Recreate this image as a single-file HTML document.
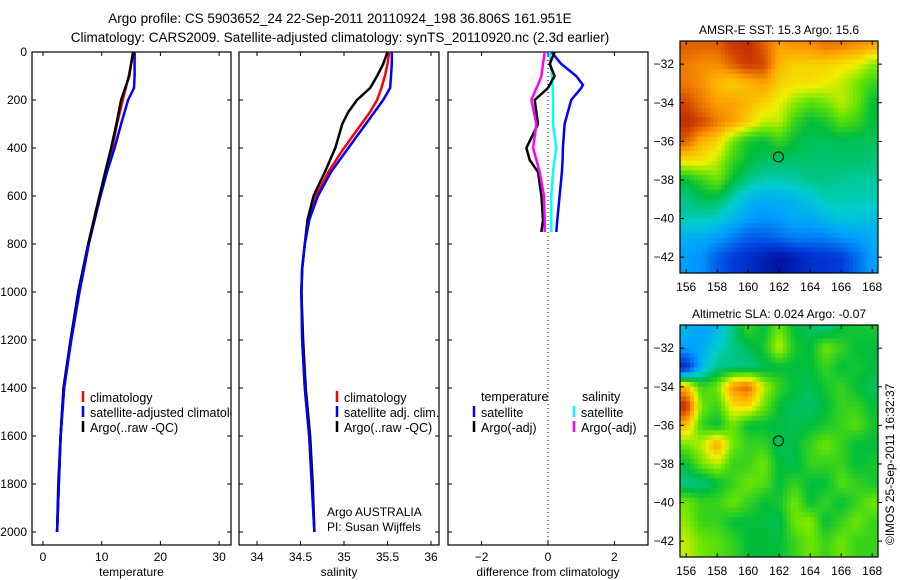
<!DOCTYPE html>
<html><head><meta charset="utf-8"><style>
body{margin:0;background:#fff;}
svg{display:block;font-family:"Liberation Sans",sans-serif;}
</style></head><body>
<svg id="c" width="900" height="580" viewBox="0 0 900 580">
<defs>
<clipPath id="cp1"><rect x="32" y="52" width="199" height="493"/></clipPath>
<clipPath id="cp2"><rect x="239" y="52" width="200" height="493"/></clipPath>
<clipPath id="cp3"><rect x="448" y="52" width="200" height="493"/></clipPath>
<clipPath id="cm1"><rect x="680" y="41" width="198" height="232"/></clipPath>
<clipPath id="cm2"><rect x="680" y="325" width="198" height="232"/></clipPath>
</defs>
<text x="340" y="23" font-size="13.5" text-anchor="middle">Argo profile: CS 5903652_24 22-Sep-2011 20110924_198 36.806S 161.951E</text>
<text x="340" y="42" font-size="13.5" text-anchor="middle">Climatology: CARS2009. Satellite-adjusted climatology: synTS_20110920.nc (2.3d earlier)</text>
<g id="g"></g>
</svg>
<script>
// ---------- data ----------
const depths = [0,50,100,150,200,300,400,500,600,800,1000,1200,1400,1600,1800,2000];
const tempSat  = [15.6,15.6,15.6,15.5,14.5,13.3,12.2,10.9,9.8,7.8,6.2,4.8,3.6,3.0,2.7,2.4];
const tempClim = [15.3,15.0,14.6,14.1,13.6,12.6,11.8,10.7,9.7,7.7,6.1,4.7,3.5,3.0,2.7,2.4];
const tempArgo = [15.4,15.0,14.7,14.0,13.3,12.5,11.6,10.6,9.6,7.7,6.0,4.7,3.5,3.0,2.6,2.4];
const depthsS = [0,50,100,150,200,250,300,400,500,600,700,800,900,1000,1200,1400,1600,1800,2000];
const salSat  = [35.55,35.55,35.54,35.53,35.45,35.35,35.25,35.05,34.85,34.7,34.6,34.55,34.52,34.51,34.52,34.55,34.6,34.63,34.66];
const salClim = [35.52,35.5,35.47,35.43,35.38,35.3,35.2,35.0,34.82,34.68,34.6,34.55,34.52,34.51,34.52,34.55,34.6,34.63,34.66];
const salArgo = [35.5,35.45,35.38,35.3,35.15,35.05,34.98,34.9,34.78,34.65,34.58,34.55,34.52,34.51,34.53,34.56,34.61,34.64,34.66];
const depthsD = [0,50,100,137,150,200,300,400,450,500,600,700,750];
const dTempSat  = [0.1,0.4,0.85,1.05,1.0,0.7,0.5,0.45,0.44,0.42,0.35,0.28,0.25];
const dTempArgo = [0.2,0.05,0.2,0.05,0.0,-0.4,-0.3,-0.65,-0.55,-0.3,-0.2,-0.15,-0.2];
const dSalSat   = [0.05,0.08,0.12,0.14,0.14,0.15,0.15,0.25,0.2,0.15,0.1,0.1,0.1];
const dSalArgo  = [-0.1,-0.15,-0.2,-0.3,-0.35,-0.5,-0.35,-0.45,-0.35,-0.25,-0.12,-0.1,-0.1];
const depthTicks = [0,200,400,600,800,1000,1200,1400,1600,1800,2000];
const tempTicks = [0,10,20,30];
const salTicks = [34,34.5,35,35.5,36];
const diffTicks = [-2,0,2];
const lonTicks = [156,158,160,162,164,166,168];
const latTicks = [-32,-34,-36,-38,-40,-42];
const lonCells = [156,157,158,159,160,161,162,163,164,165,166,167,168];
const latCells = [-31,-32,-33,-34,-35,-36,-37,-38,-39,-40,-41,-42];
const sstGrid = [
[0.85,0.85,0.85,0.9,0.92,0.85,0.78,0.8,0.8,0.83,0.82,0.8,0.78],
[0.82,0.8,0.8,0.85,0.9,0.88,0.75,0.72,0.72,0.72,0.7,0.68,0.62],
[0.82,0.8,0.75,0.72,0.75,0.78,0.72,0.7,0.7,0.68,0.65,0.6,0.55],
[0.88,0.82,0.78,0.78,0.75,0.72,0.68,0.62,0.58,0.6,0.65,0.6,0.5],
[0.92,0.88,0.82,0.78,0.72,0.65,0.65,0.55,0.5,0.52,0.58,0.55,0.5],
[0.85,0.75,0.72,0.6,0.52,0.5,0.55,0.5,0.48,0.48,0.48,0.48,0.48],
[0.7,0.7,0.65,0.55,0.5,0.48,0.47,0.47,0.47,0.46,0.47,0.47,0.46],
[0.5,0.55,0.6,0.5,0.45,0.42,0.42,0.43,0.45,0.45,0.44,0.43,0.43],
[0.45,0.48,0.48,0.42,0.35,0.33,0.33,0.35,0.38,0.42,0.42,0.42,0.42],
[0.42,0.42,0.4,0.35,0.3,0.28,0.3,0.32,0.32,0.35,0.38,0.38,0.36],
[0.33,0.32,0.3,0.25,0.2,0.2,0.22,0.25,0.25,0.25,0.28,0.3,0.33],
[0.3,0.28,0.2,0.15,0.12,0.08,0.05,0.08,0.12,0.13,0.15,0.22,0.3]];
const slaGrid = [
[0.35,0.3,0.35,0.45,0.55,0.5,0.6,0.5,0.48,0.45,0.5,0.52,0.52],
[0.3,0.32,0.4,0.45,0.48,0.52,0.65,0.52,0.5,0.6,0.55,0.5,0.5],
[0.1,0.35,0.45,0.45,0.45,0.48,0.5,0.5,0.5,0.55,0.5,0.52,0.5],
[0.75,0.55,0.6,0.8,0.85,0.65,0.55,0.5,0.48,0.52,0.55,0.5,0.48],
[0.92,0.6,0.55,0.7,0.72,0.6,0.5,0.48,0.47,0.5,0.55,0.55,0.5],
[0.75,0.55,0.5,0.6,0.5,0.5,0.5,0.48,0.5,0.52,0.55,0.58,0.52],
[0.6,0.65,0.78,0.6,0.55,0.55,0.48,0.5,0.55,0.6,0.55,0.5,0.5],
[0.5,0.6,0.65,0.55,0.55,0.6,0.5,0.48,0.55,0.55,0.55,0.5,0.52],
[0.45,0.45,0.5,0.55,0.6,0.58,0.5,0.55,0.5,0.5,0.58,0.55,0.52],
[0.6,0.55,0.55,0.6,0.55,0.5,0.52,0.6,0.5,0.55,0.5,0.55,0.6],
[0.62,0.55,0.55,0.5,0.5,0.5,0.48,0.6,0.62,0.5,0.55,0.6,0.55],
[0.65,0.6,0.58,0.55,0.5,0.5,0.5,0.55,0.6,0.55,0.6,0.55,0.55]];
const floatLon = 161.951, floatLat = -36.806;

// ---------- helpers ----------
const NS="http://www.w3.org/2000/svg";
const root=document.getElementById('g');
function mk(tag,attrs,parent){const e=document.createElementNS(NS,tag);for(const k in attrs)e.setAttribute(k,attrs[k]);(parent||root).appendChild(e);return e;}
const yD = d => 52 + d*0.24;
const cmapStops=[[0,[0,0,130]],[0.15,[0,60,220]],[0.3,[0,160,255]],[0.4,[0,205,205]],[0.5,[0,190,60]],[0.6,[110,230,0]],[0.68,[240,240,0]],[0.78,[255,160,0]],[0.88,[210,70,0]],[1,[150,0,0]]];
function cmap(v){v=Math.max(0,Math.min(1,v));
 for(let i=1;i<cmapStops.length;i++){const a=cmapStops[i-1],b=cmapStops[i];
  if(v<=b[0]){const t=(v-a[0])/(b[0]-a[0]);return 'rgb('+a[1].map((c,k)=>Math.round(c+(b[1][k]-c)*t)).join(',')+')';}}
 return 'rgb(150,0,0)';}

function panel(name,x0,x1,xs,ticks,fmt,label){
 const r=mk('rect',{x:x0,y:52,width:x1-x0,height:493,fill:'none',stroke:'#000','stroke-width':1.2});
 
 
 depthTicks.forEach(d=>{
  mk('line',{x1:x0,x2:x0+4,y1:yD(d),y2:yD(d),stroke:'#000'});
  mk('line',{x1:x1,x2:x1-4,y1:yD(d),y2:yD(d),stroke:'#000'});
  if(name==='temperature-panel'){const t=mk('text',{x:x0-5,y:yD(d)+4,'font-size':12,'text-anchor':'end'});t.textContent=d;
   
   }
 });
 ticks.forEach(v=>{const x=xs(v);
  mk('line',{x1:x,x2:x,y1:545,y2:541,stroke:'#000'});mk('line',{x1:x,x2:x,y1:52,y2:56,stroke:'#000'});
  const t=mk('text',{x:x,y:561,'font-size':12,'text-anchor':'middle'});t.textContent=fmt(v);
  
  });
 const l=mk('text',{x:(x0+x1)/2,y:576,'font-size':12,'text-anchor':'middle'});l.textContent=label;
 
 
}
function line(name,xs,vals,ds,color,clip){
 const pts=vals.map((v,i)=>xs(v).toFixed(1)+','+yD(ds[i]).toFixed(1)).join(' ');
 const p=mk('polyline',{points:pts,fill:'none',stroke:color,'stroke-width':2.5,'clip-path':'url(#'+clip+')'});
 
 
}
function legend(x,y,color,txt,clip){
 mk('line',{x1:x,x2:x,y1:y-6,y2:y+5,stroke:color,'stroke-width':2.5});
 const t=mk('text',{x:x+7,y:y+5,'font-size':12.5,'clip-path':clip?'url(#'+clip+')':''});t.textContent=txt;
 
 
}

// panel 1 temperature
const xT=v=>43+v*5.87;
panel('temperature-panel',32,231,xT,tempTicks,v=>v,'temperature');
line('temp-climatology-line',xT,tempClim,depths,'#f00','cp1');
line('temp-satellite-line',xT,tempSat,depths,'#00f','cp1');
line('temp-argo-line',xT,tempArgo,depths,'#000','cp1');
line('temp-satellite-line-top',xT,tempSat.slice(9),depths.slice(9),'#00f','cp1');
legend(83,397,'#f00','climatology','cp1');
legend(83,412,'#00f','satellite-adjusted climatology','cp1');
legend(83,427,'#000','Argo(..raw -QC)','cp1');

// panel 2 salinity
const xS=v=>257+(v-34)*87;
panel('salinity-panel',239,439,xS,salTicks,v=>v,'salinity');
line('sal-climatology-line',xS,salClim,depthsS,'#f00','cp2');
line('sal-argo-line',xS,salArgo,depthsS,'#000','cp2');
line('sal-satellite-line',xS,salSat,depthsS,'#00f','cp2');
legend(337,397,'#f00','climatology');
legend(337,412,'#00f','satellite adj. clim.');
legend(337,427,'#000','Argo(..raw -QC)');
[['Argo AUSTRALIA',516],['PI: Susan Wijffels',531]].forEach(a=>{const t=mk('text',{x:327,y:a[1],'font-size':12});t.textContent=a[0];
 
 });

// panel 3 differences
const xDf=v=>548+v*33.2;
panel('difference-panel',448,648,xDf,diffTicks,v=>v===-2?'\u22122':v,'difference from climatology');
mk('line',{x1:xDf(0),x2:xDf(0),y1:52,y2:545,stroke:'#000','stroke-dasharray':'1,3'});
line('dsal-satellite-line',xDf,dSalSat,depthsD,'#0ff','cp3');
line('dtemp-satellite-line',xDf,dTempSat,depthsD,'#00f','cp3');
line('dtemp-argo-line',xDf,dTempArgo,depthsD,'#000','cp3');
line('dsal-argo-line',xDf,dSalArgo,depthsD,'#f0f','cp3');
[['temperature',481,401],['salinity',582,401]].forEach(a=>{const t=mk('text',{x:a[1],y:a[2],'font-size':12.5});t.textContent=a[0];
 
 });
legend(474,412,'#00f','satellite');
legend(474,427,'#000','Argo(-adj)');
legend(574,412,'#0ff','satellite');
legend(574,427,'#f0f','Argo(-adj)');

// maps (bilinear upsampling of the 1-degree grids to 0.25-degree cells)
function sample(grid,lon,lat){
 let fj=Math.max(0,Math.min(lonCells.length-1,lon-lonCells[0]));
 let fi=Math.max(0,Math.min(latCells.length-1,latCells[0]-lat));
 const j0=Math.floor(fj),i0=Math.floor(fi),j1=Math.min(j0+1,lonCells.length-1),i1=Math.min(i0+1,latCells.length-1);
 const tj=fj-j0,ti=fi-i0;
 return (grid[i0][j0]*(1-tj)+grid[i0][j1]*tj)*(1-ti)+(grid[i1][j0]*(1-tj)+grid[i1][j1]*tj)*ti;
}
function map(name,top,grid,title,clip){
 const xL=v=>680+(v-155.6)*15.5, yL=v=>top+(-30.8-v)*19.3;
 const g=mk('g',{'clip-path':'url(#'+clip+')'});
 
 
 const step=0.25;
 for(let lat=-30.75;lat>=-42.875;lat-=step){
  for(let lon=155.5;lon<=168.375;lon+=step){
   const v=sample(grid,lon+step/2,lat-step/2);
   const c=mk('rect',{x:xL(lon).toFixed(2),y:yL(lat).toFixed(2),width:(step*15.5+0.4).toFixed(2),height:(step*19.3+0.4).toFixed(2),fill:cmap(v)},g);
   
   
  }
 }
 mk('rect',{x:680,y:top,width:198,height:232,fill:'none',stroke:'#000','stroke-width':1.2});
 lonTicks.forEach(v=>{const x=xL(v);mk('line',{x1:x,x2:x,y1:top,y2:top+4,stroke:'#000'});mk('line',{x1:x,x2:x,y1:top+232,y2:top+228,stroke:'#000'});
  const t=mk('text',{x:x,y:top+250,'font-size':12,'text-anchor':'middle'});t.textContent=v;
  
  });
 latTicks.forEach(v=>{const y=yL(v);mk('line',{x1:680,x2:684,y1:y,y2:y,stroke:'#000'});mk('line',{x1:878,x2:882,y1:y,y2:y,stroke:'#000'});
  const t=mk('text',{x:674,y:y+4,'font-size':12,'text-anchor':'end'});t.textContent='\u2212'+(-v);
  
  });
 const c=mk('circle',{cx:xL(floatLon),cy:yL(floatLat),r:5,fill:'none',stroke:'#000','stroke-width':1});
 
 
 const t=mk('text',{x:779,y:top-7,'font-size':12,'text-anchor':'middle'});t.textContent=title;
 
 
}
map('sst-map',41,sstGrid,'AMSR-E SST: 15.3 Argo: 15.6','cm1');
map('sla-map',325,slaGrid,'Altimetric SLA: 0.024 Argo: -0.07','cm2');
const ts=mk('text',{x:0,y:0,'font-size':12,transform:'translate(894,545) rotate(-90)'});ts.textContent='\u00A9IMOS 25-Sep-2011 16:32:37';


</script>
</body></html>
